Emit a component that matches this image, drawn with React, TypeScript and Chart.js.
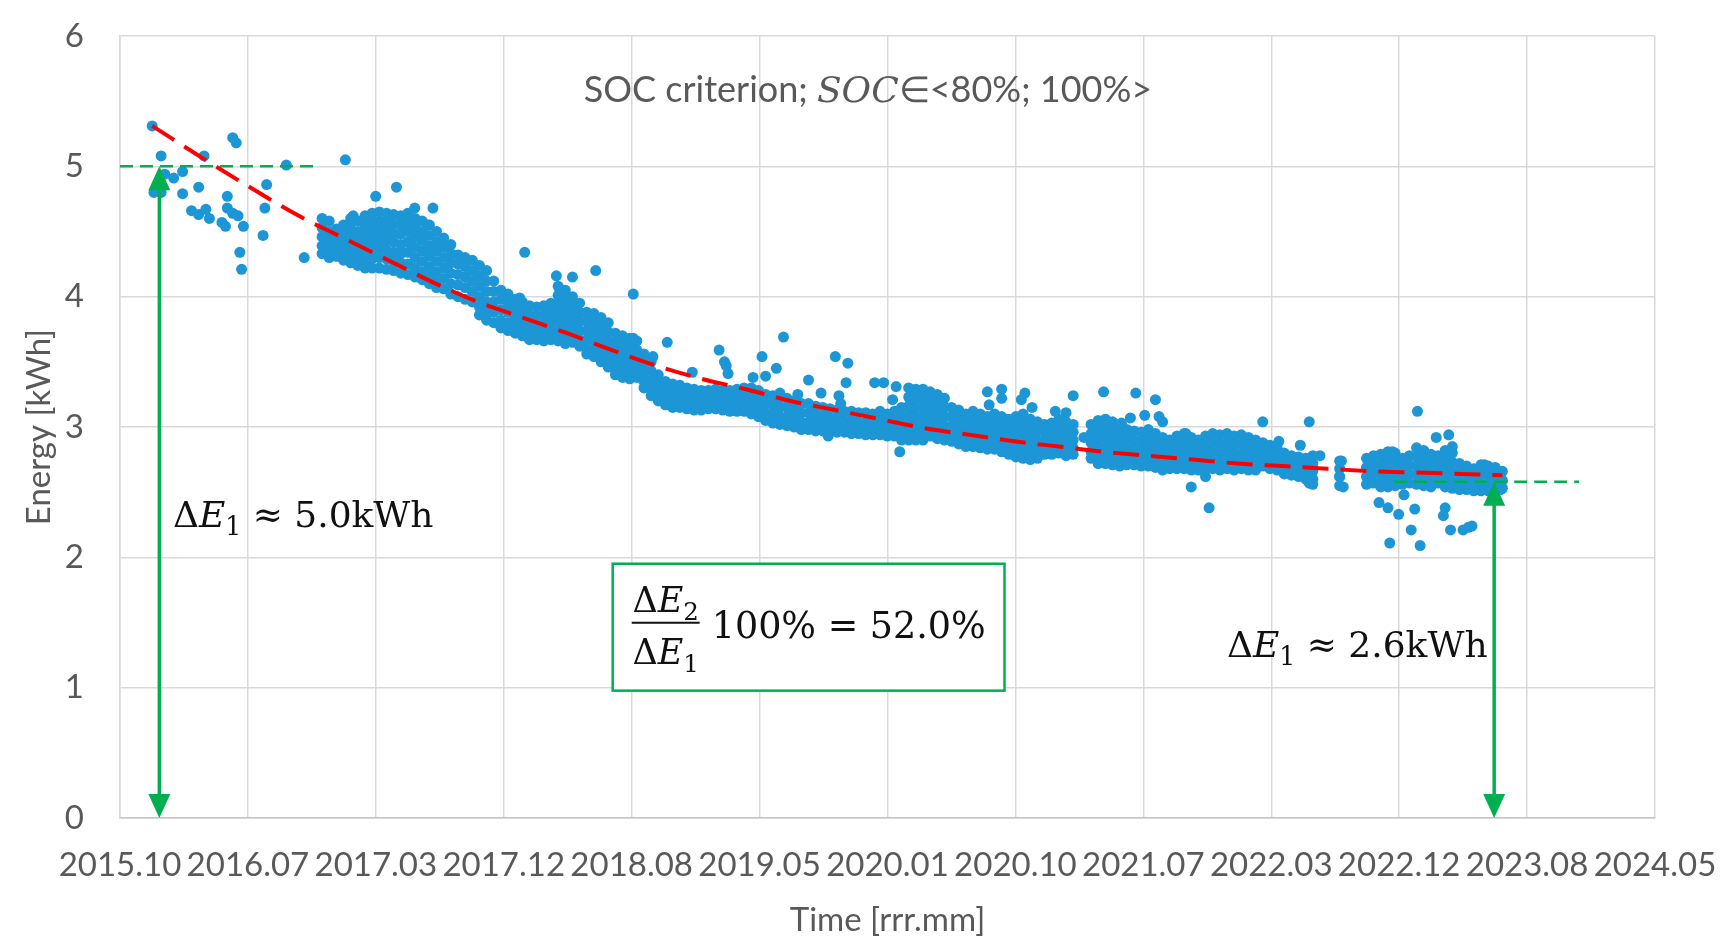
import React, { useEffect, useRef } from "react";
import { Chart, registerables } from "chart.js";

Chart.register(...registerables);

// ---------------- data ----------------
const xTickLabels = [
  "2015.10", "2016.07", "2017.03", "2017.12", "2018.08", "2019.05", "2020.01",
  "2020.10", "2021.07", "2022.03", "2022.12", "2023.08", "2024.05",
];
const yTickValues = [0, 1, 2, 3, 4, 5, 6];
const X_START = 2015 + 9 / 12; // 2015.10
const X_END = 2024 + 4 / 12; // 2024.05

// sparse measurements at the beginning [year, kWh]
const early2016Points = [
  [2015.93, 5.31], [2015.98, 5.08], [2015.94, 4.8], [2015.98, 4.8], [2016.0, 4.94],
  [2016.05, 4.91], [2016.1, 4.96], [2016.22, 5.08], [2016.1, 4.79], [2016.19, 4.84],
  [2016.15, 4.66], [2016.19, 4.63], [2016.23, 4.67], [2016.25, 4.6], [2016.35, 4.77],
  [2016.35, 4.68], [2016.38, 4.64], [2016.41, 4.62], [2016.44, 4.54], [2016.34, 4.54],
  [2016.32, 4.57], [2016.38, 5.22], [2016.4, 5.18], [2016.42, 4.34], [2016.43, 4.21],
  [2016.57, 4.86], [2016.56, 4.68], [2016.55, 4.47], [2016.68, 5.01], [2016.78, 4.3],
  [2017.01, 5.05],
];

// dense clusters: [year, kWh, kWh, ...]
const blob2017Cols = [
  [2016.88, 4.6, 4.53, 4.46, 4.39, 4.33],
  [2016.92, 4.58, 4.5, 4.43, 4.36, 4.3],
  [2016.96, 4.52, 4.45, 4.38, 4.31],
  [2017.0, 4.55, 4.48, 4.41, 4.34, 4.28],
  [2017.04, 4.6, 4.52, 4.45, 4.38, 4.31, 4.26],
  [2017.08, 4.58, 4.5, 4.43, 4.36, 4.29, 4.24],
  [2017.12, 4.62, 4.55, 4.48, 4.41, 4.34, 4.27, 4.22],
  [2017.16, 4.64, 4.57, 4.5, 4.43, 4.36, 4.29, 4.22],
  [2017.2, 4.65, 4.58, 4.51, 4.44, 4.37, 4.3, 4.22],
  [2017.24, 4.64, 4.57, 4.5, 4.43, 4.36, 4.29, 4.21],
  [2017.28, 4.63, 4.56, 4.49, 4.42, 4.34, 4.27, 4.2],
  [2017.32, 4.62, 4.55, 4.48, 4.4, 4.33, 4.26, 4.18],
  [2017.36, 4.64, 4.57, 4.5, 4.42, 4.34, 4.25, 4.17],
  [2017.4, 4.6, 4.53, 4.46, 4.38, 4.3, 4.22, 4.15],
  [2017.44, 4.58, 4.5, 4.43, 4.35, 4.27, 4.19, 4.13],
  [2017.48, 4.55, 4.47, 4.39, 4.31, 4.23, 4.15, 4.1],
  [2017.52, 4.5, 4.42, 4.35, 4.27, 4.19, 4.11, 4.07],
  [2017.56, 4.45, 4.38, 4.3, 4.22, 4.14, 4.06],
  [2017.6, 4.4, 4.33, 4.26, 4.18, 4.1, 4.02],
  [2017.64, 4.32, 4.25, 4.17, 4.09, 4.0],
  [2017.68, 4.3, 4.23, 4.15, 4.07, 3.98],
  [2017.72, 4.28, 4.2, 4.12, 4.04, 3.96],
  [2017.76, 4.24, 4.16, 4.08, 4.0, 3.92, 3.86],
  [2017.8, 4.2, 4.12, 4.04, 3.96, 3.88, 3.82],
  [2017.84, 4.12, 4.04, 3.96, 3.88, 3.8],
  [2017.88, 4.05, 3.98, 3.9, 3.82, 3.76],
  [2017.92, 4.02, 3.95, 3.88, 3.8, 3.74],
  [2017.96, 3.98, 3.91, 3.84, 3.77, 3.72],
  [2018.0, 3.96, 3.89, 3.82, 3.75, 3.7],
];

const band2018Cols = [
  [2018.04, 3.93, 3.86, 3.79, 3.72, 3.67],
  [2018.08, 3.92, 3.85, 3.78, 3.71, 3.67],
  [2018.12, 3.93, 3.86, 3.79, 3.72, 3.66],
  [2018.16, 3.95, 3.88, 3.81, 3.74, 3.67],
  [2018.2, 4.08, 4.01, 3.94, 3.87, 3.8, 3.73, 3.66],
  [2018.24, 4.05, 3.98, 3.91, 3.84, 3.77, 3.7, 3.64],
  [2018.28, 4.0, 3.93, 3.86, 3.79, 3.72, 3.65],
  [2018.32, 3.95, 3.88, 3.81, 3.74, 3.67, 3.62],
  [2018.36, 3.88, 3.81, 3.74, 3.67, 3.6, 3.56],
  [2018.4, 3.87, 3.8, 3.73, 3.66, 3.59, 3.54],
  [2018.44, 3.84, 3.77, 3.7, 3.63, 3.56, 3.5],
  [2018.48, 3.8, 3.73, 3.66, 3.59, 3.52, 3.46],
  [2018.52, 3.72, 3.65, 3.58, 3.51, 3.44, 3.4],
  [2018.56, 3.7, 3.63, 3.56, 3.49, 3.42, 3.38],
  [2018.6, 3.68, 3.61, 3.54, 3.47, 3.4, 3.37],
  [2018.64, 3.66, 3.59, 3.52, 3.45, 3.38],
  [2018.68, 3.56, 3.49, 3.42, 3.35, 3.3],
  [2018.72, 3.5, 3.43, 3.36, 3.29, 3.24],
  [2018.76, 3.4, 3.33, 3.26, 3.2],
  [2018.8, 3.35, 3.28, 3.21, 3.17],
  [2018.84, 3.33, 3.26, 3.2, 3.15],
  [2018.88, 3.32, 3.26, 3.2, 3.15],
  [2018.92, 3.3, 3.24, 3.18, 3.14],
  [2018.96, 3.29, 3.23, 3.17, 3.13],
];

const band2019Cols = [
  [2019.0, 3.28, 3.22, 3.16, 3.13],
  [2019.04, 3.28, 3.22, 3.16, 3.14],
  [2019.08, 3.29, 3.23, 3.17, 3.14],
  [2019.12, 3.28, 3.22, 3.16, 3.13],
  [2019.16, 3.28, 3.22, 3.16, 3.12],
  [2019.2, 3.29, 3.23, 3.17, 3.12],
  [2019.24, 3.3, 3.24, 3.18, 3.12],
  [2019.28, 3.3, 3.23, 3.16, 3.1],
  [2019.32, 3.28, 3.21, 3.14, 3.08],
  [2019.36, 3.25, 3.18, 3.11, 3.05],
  [2019.4, 3.24, 3.17, 3.1, 3.03],
  [2019.44, 3.22, 3.15, 3.08, 3.02],
  [2019.48, 3.22, 3.15, 3.08, 3.01],
  [2019.52, 3.2, 3.13, 3.06, 3.0],
  [2019.56, 3.18, 3.11, 3.04, 2.98],
  [2019.6, 3.18, 3.11, 3.04, 2.98],
  [2019.64, 3.16, 3.09, 3.02, 2.97],
  [2019.68, 3.15, 3.08, 3.01, 2.97],
  [2019.72, 3.14, 3.07, 3.0, 2.96],
  [2019.76, 3.13, 3.06, 3.0, 2.96],
  [2019.8, 3.12, 3.05, 2.99, 2.96],
  [2019.84, 3.12, 3.05, 2.99, 2.95],
  [2019.88, 3.11, 3.04, 2.98, 2.95],
  [2019.92, 3.11, 3.04, 2.98, 2.94],
  [2019.96, 3.1, 3.03, 2.97, 2.94],
];

const band2020Cols = [
  [2020.0, 3.12, 3.05, 2.98, 2.94],
  [2020.04, 3.1, 3.03, 2.97, 2.93],
  [2020.08, 3.12, 3.05, 2.98, 2.93],
  [2020.12, 3.15, 3.08, 3.01, 2.95, 2.9],
  [2020.16, 3.3, 3.23, 3.16, 3.09, 3.02, 2.95, 2.9],
  [2020.2, 3.28, 3.21, 3.14, 3.07, 3.0, 2.94, 2.9],
  [2020.24, 3.29, 3.22, 3.15, 3.08, 3.01, 2.94, 2.9],
  [2020.28, 3.27, 3.2, 3.13, 3.06, 2.99, 2.93],
  [2020.32, 3.25, 3.18, 3.11, 3.04, 2.97, 2.91],
  [2020.36, 3.22, 3.15, 3.08, 3.01, 2.95, 2.9],
  [2020.4, 3.15, 3.08, 3.01, 2.94, 2.89],
  [2020.44, 3.13, 3.06, 2.99, 2.92, 2.87],
  [2020.48, 3.1, 3.03, 2.96, 2.9, 2.85],
  [2020.52, 3.12, 3.05, 2.98, 2.91, 2.85],
  [2020.56, 3.1, 3.03, 2.96, 2.89, 2.84],
  [2020.6, 3.08, 3.01, 2.94, 2.88, 2.83],
  [2020.64, 3.1, 3.03, 2.96, 2.89, 2.83],
  [2020.68, 3.08, 3.01, 2.94, 2.87, 2.81],
  [2020.72, 3.06, 2.99, 2.92, 2.85, 2.79],
  [2020.76, 3.08, 3.01, 2.94, 2.87, 2.8, 2.77],
  [2020.8, 3.1, 3.03, 2.96, 2.89, 2.82, 2.76],
  [2020.84, 3.06, 2.99, 2.92, 2.85, 2.78, 2.75],
  [2020.88, 3.04, 2.97, 2.9, 2.83, 2.76],
  [2020.92, 3.02, 2.96, 2.9, 2.84, 2.79],
  [2020.96, 3.03, 2.97, 2.91, 2.85, 2.79],
];

const band2021Cols = [
  [2021.0, 3.06, 2.99, 2.92, 2.86, 2.8],
  [2021.04, 3.04, 2.97, 2.9, 2.84, 2.78],
  [2021.08, 3.02, 2.96, 2.9, 2.84, 2.79],
  [2021.18, 3.02, 2.95, 2.88, 2.81, 2.76],
  [2021.22, 3.05, 2.98, 2.91, 2.84, 2.77, 2.72],
  [2021.26, 3.06, 2.99, 2.92, 2.85, 2.78, 2.72],
  [2021.3, 3.04, 2.97, 2.9, 2.83, 2.76, 2.71],
  [2021.34, 3.01, 2.94, 2.87, 2.8, 2.74, 2.7],
  [2021.38, 2.98, 2.91, 2.84, 2.77, 2.71],
  [2021.42, 2.97, 2.9, 2.83, 2.77, 2.71],
  [2021.46, 2.96, 2.89, 2.82, 2.75, 2.7],
  [2021.5, 2.98, 2.91, 2.84, 2.77, 2.7],
  [2021.54, 2.95, 2.88, 2.81, 2.74, 2.69],
  [2021.58, 2.92, 2.85, 2.78, 2.72, 2.67],
  [2021.62, 2.9, 2.84, 2.78, 2.72, 2.68],
  [2021.66, 2.93, 2.86, 2.79, 2.73, 2.68],
  [2021.7, 2.95, 2.88, 2.81, 2.74, 2.68],
  [2021.74, 2.92, 2.85, 2.78, 2.72, 2.67],
  [2021.78, 2.9, 2.84, 2.78, 2.72, 2.67],
  [2021.82, 2.93, 2.86, 2.79, 2.73, 2.68],
  [2021.86, 2.95, 2.88, 2.81, 2.74, 2.68],
  [2021.9, 2.94, 2.87, 2.8, 2.73, 2.67],
  [2021.94, 2.95, 2.88, 2.81, 2.74, 2.68],
  [2021.98, 2.93, 2.86, 2.79, 2.72, 2.67],
];

const band2022Cols = [
  [2022.02, 2.94, 2.87, 2.8, 2.73, 2.68],
  [2022.06, 2.92, 2.85, 2.78, 2.72, 2.67],
  [2022.1, 2.9, 2.83, 2.76, 2.7, 2.67],
  [2022.14, 2.88, 2.82, 2.76, 2.7],
  [2022.18, 2.86, 2.8, 2.74, 2.68],
  [2022.22, 2.84, 2.78, 2.72, 2.67],
  [2022.26, 2.8, 2.74, 2.68, 2.64],
  [2022.3, 2.78, 2.72, 2.66, 2.63],
  [2022.34, 2.77, 2.71, 2.65, 2.62],
  [2022.38, 2.76, 2.7, 2.64, 2.6],
  [2022.42, 2.78, 2.72, 2.66, 2.6, 2.56],
  [2022.57, 2.74, 2.68, 2.62, 2.55],
  [2022.72, 2.76, 2.69, 2.62, 2.56],
  [2022.76, 2.78, 2.71, 2.64, 2.57],
  [2022.8, 2.79, 2.72, 2.65, 2.58, 2.54],
  [2022.84, 2.81, 2.74, 2.67, 2.6, 2.54],
  [2022.88, 2.8, 2.73, 2.66, 2.59, 2.55],
  [2022.92, 2.76, 2.69, 2.62, 2.56],
  [2022.96, 2.78, 2.71, 2.64, 2.57],
];

const band2023Cols = [
  [2023.0, 2.84, 2.77, 2.7, 2.63, 2.56],
  [2023.04, 2.82, 2.75, 2.68, 2.61, 2.55],
  [2023.08, 2.79, 2.72, 2.65, 2.58, 2.54],
  [2023.12, 2.78, 2.71, 2.64, 2.57],
  [2023.16, 2.82, 2.75, 2.68, 2.61, 2.54],
  [2023.2, 2.8, 2.73, 2.66, 2.59, 2.53],
  [2023.24, 2.72, 2.65, 2.58, 2.52],
  [2023.28, 2.7, 2.64, 2.58, 2.52],
  [2023.32, 2.68, 2.62, 2.56, 2.51],
  [2023.36, 2.71, 2.64, 2.57, 2.51],
  [2023.4, 2.7, 2.63, 2.56, 2.51],
  [2023.44, 2.69, 2.62, 2.55, 2.51],
  [2023.48, 2.66, 2.59, 2.53],
];

// isolated measurements [year, kWh]
const outliers2017 = [
  [2017.035, 4.55], [2017.054, 4.62], [2017.18, 4.77], [2017.296, 4.84], [2017.398, 4.68],
  [2017.5, 4.68], [2017.473, 4.55], [2017.557, 4.41], [2017.985, 3.99], [2018.013, 4.34],
];
const outliers2018 = [
  [2018.19, 4.16], [2018.28, 4.15], [2018.41, 4.2], [2018.62, 4.02], [2018.62, 3.68],
  [2018.73, 3.54], [2018.81, 3.65], [2018.95, 3.42],
];
const outliers2019 = [
  [2019.1, 3.59], [2019.13, 3.5], [2019.14, 3.47], [2019.15, 3.41], [2019.29, 3.38],
  [2019.34, 3.54], [2019.36, 3.39], [2019.42, 3.45], [2019.46, 3.69], [2019.44, 3.26],
  [2019.54, 3.25], [2019.6, 3.36], [2019.67, 3.26], [2019.71, 2.93], [2019.75, 3.54],
  [2019.82, 3.49], [2019.81, 3.34], [2019.77, 3.24], [2019.78, 3.18], [2019.97, 3.34],
];
const outliers2020 = [
  [2020.02, 3.34], [2020.09, 3.31], [2020.07, 3.21], [2020.11, 2.81], [2020.17, 3.21],
  [2020.2, 3.29], [2020.6, 3.27], [2020.68, 3.29], [2020.68, 3.22], [2020.61, 3.17],
  [2020.81, 3.26], [2020.79, 3.21], [2020.85, 3.15], [2020.98, 3.12],
];
const outliers2021 = [
  [2021.04, 3.11], [2021.08, 3.24], [2021.14, 2.92], [2021.25, 3.27], [2021.3, 3.03],
  [2021.35, 3.03], [2021.4, 3.07], [2021.43, 3.26], [2021.48, 3.09], [2021.54, 3.21],
  [2021.56, 3.08], [2021.58, 3.04], [2021.71, 2.95], [2021.74, 2.54], [2021.84, 2.38],
  [2021.82, 2.62],
];
const outliers2022 = [
  [2022.14, 3.04], [2022.23, 2.89], [2022.35, 2.86], [2022.4, 3.04], [2022.4, 2.57],
  [2022.38, 2.65], [2022.46, 2.78], [2022.58, 2.74], [2022.57, 2.62], [2022.59, 2.54],
  [2022.735, 2.74], [2022.865, 2.81], [2022.79, 2.42], [2022.84, 2.38], [2022.9, 2.33],
  [2022.85, 2.11], [2022.93, 2.48], [2022.99, 2.37], [2022.97, 2.21],
];
const outliers2023 = [
  [2023.005, 3.12], [2023.02, 2.09], [2023.11, 2.92], [2023.18, 2.94], [2023.2, 2.85],
  [2023.16, 2.38], [2023.15, 2.32], [2023.19, 2.21], [2023.26, 2.21], [2023.29, 2.23],
  [2023.31, 2.24], [2023.47, 2.52], [2023.38, 2.71],
];

// red dashed trend line [year, kWh]
const trendPoints = [
  [2015.93, 5.31], [2016.25, 5.03], [2016.5, 4.82], [2016.75, 4.62], [2017.0, 4.45],
  [2017.25, 4.28], [2017.5, 4.11], [2017.75, 3.96], [2018.0, 3.84], [2018.25, 3.72],
  [2018.5, 3.59], [2018.75, 3.47], [2019.0, 3.37], [2019.25, 3.29], [2019.5, 3.2],
  [2019.75, 3.13], [2020.0, 3.06], [2020.25, 2.99], [2020.5, 2.94], [2020.75, 2.89],
  [2021.0, 2.85], [2021.25, 2.81], [2021.5, 2.78], [2021.75, 2.75], [2022.0, 2.72],
  [2022.25, 2.7], [2022.5, 2.68], [2022.75, 2.66], [2023.0, 2.65], [2023.25, 2.64],
  [2023.48, 2.63],
];

// green guides: start / end capacity levels
const startLevel = [[2015.75, 5.0], [2016.845, 5.0]];
const endLevel = [[2022.875, 2.58], [2023.909, 2.58]];
const arrowMarks = [
  { x: 2015.97, from: 0, to: 5.0 },
  { x: 2023.434, from: 0, to: 2.58 },
];

// ---------------- styles ----------------
const SANS = "Lato, 'Open Sans', sans-serif";
const SERIF = "'DejaVu Serif', 'Liberation Serif', serif";
const GREEN = "#00B050";
const GREY = "#595959";
const DOT = "#1D96D6";

type Seg = { t: string; it?: boolean; sub?: boolean; fam?: string };

function setFont(ctx: CanvasRenderingContext2D, s: Seg, size: number, fam: string) {
  const fs = s.sub ? size * 0.7 : size;
  ctx.font = `${s.it ? "italic " : ""}${fs}px ${s.fam ?? fam}`;
}
function runWidth(ctx: CanvasRenderingContext2D, segs: Seg[], size: number, fam: string) {
  let w = 0;
  for (const s of segs) {
    setFont(ctx, s, size, fam);
    w += ctx.measureText(s.t).width;
  }
  return w;
}
function drawRun(ctx: CanvasRenderingContext2D, segs: Seg[], x: number, y: number, size: number, fam: string) {
  let cx = x;
  for (const s of segs) {
    setFont(ctx, s, size, fam);
    ctx.fillText(s.t, cx, y + (s.sub ? size * 0.24 : 0));
    cx += ctx.measureText(s.t).width;
  }
}

const deltaE = (n: string): Seg[] => [{ t: "Δ" }, { t: "E", it: true }, { t: n, sub: true }];

const annotationPlugin = {
  id: "annotations",
  afterDatasetsDraw(chart: any) {
    const ctx: CanvasRenderingContext2D = chart.ctx;
    const xs = chart.scales.x;
    const ys = chart.scales.y;
    ctx.save();
    ctx.textAlign = "left";
    ctx.textBaseline = "alphabetic";

    // title inside plot
    ctx.fillStyle = GREY;
    const titleSegs: Seg[] = [
      { t: "SOC criterion; ", fam: SANS },
      { t: "SOC", it: true, fam: SERIF },
      { t: "∈<80%; 100%>", fam: SANS },
    ];
    drawRun(ctx, titleSegs, xs.getPixelForValue(2018.343), ys.getPixelForValue(5.49), 36, SANS);

    // arrows
    ctx.strokeStyle = GREEN;
    ctx.fillStyle = GREEN;
    for (const a of arrowMarks) {
      const px = xs.getPixelForValue(a.x);
      const top = ys.getPixelForValue(a.to);
      const bot = ys.getPixelForValue(a.from);
      const head = 24;
      const half = 11;
      ctx.lineWidth = 3.5;
      ctx.beginPath();
      ctx.moveTo(px, top + head - 2);
      ctx.lineTo(px, bot - head + 2);
      ctx.stroke();
      ctx.beginPath();
      ctx.moveTo(px, top);
      ctx.lineTo(px - half, top + head);
      ctx.lineTo(px + half, top + head);
      ctx.closePath();
      ctx.fill();
      ctx.beginPath();
      ctx.moveTo(px, bot);
      ctx.lineTo(px - half, bot - head);
      ctx.lineTo(px + half, bot - head);
      ctx.closePath();
      ctx.fill();
    }

    // delta labels
    ctx.fillStyle = "#111";
    drawRun(ctx, [...deltaE("1"), { t: " ≈ 5.0kWh" }], xs.getPixelForValue(2016.046), ys.getPixelForValue(2.235), 36, SERIF);
    drawRun(ctx, [...deltaE("1"), { t: " ≈ 2.6kWh" }], xs.getPixelForValue(2021.94), ys.getPixelForValue(1.237), 36, SERIF);

    // ratio box
    const bx0 = xs.getPixelForValue(2018.505);
    const bx1 = xs.getPixelForValue(2020.696);
    const by0 = ys.getPixelForValue(1.951);
    const by1 = ys.getPixelForValue(0.977);
    ctx.fillStyle = "#ffffff";
    ctx.fillRect(bx0, by0, bx1 - bx0, by1 - by0);
    ctx.strokeStyle = GREEN;
    ctx.lineWidth = 2.5;
    ctx.strokeRect(bx0, by0, bx1 - bx0, by1 - by0);

    ctx.fillStyle = "#111";
    const num = deltaE("2");
    const den = deltaE("1");
    const cx = bx0 + 53;
    const wn = runWidth(ctx, num, 35, SERIF);
    const wd = runWidth(ctx, den, 35, SERIF);
    drawRun(ctx, num, cx - wn / 2, by0 + 48, 35, SERIF);
    drawRun(ctx, den, cx - wd / 2, by0 + 100, 35, SERIF);
    ctx.strokeStyle = "#111";
    ctx.lineWidth = 2;
    ctx.beginPath();
    ctx.moveTo(bx0 + 19, by0 + 59);
    ctx.lineTo(bx0 + 87, by0 + 59);
    ctx.stroke();
    drawRun(ctx, [{ t: "100% = 52.0%" }], bx0 + 99, by0 + 74, 36.5, SERIF);

    ctx.restore();
  },
};

function colsToPoints(cols: number[][]) {
  const out: { x: number; y: number }[] = [];
  for (const c of cols) for (let i = 1; i < c.length; i++) out.push({ x: c[0], y: c[i] });
  return out;
}
const pairs = (arr: number[][]) => arr.map(([x, y]) => ({ x, y }));

function clearScalePadding(scale: any) {
  scale.paddingTop = 0;
  scale.paddingBottom = 0;
  scale.paddingLeft = 0;
  scale.paddingRight = 0;
}

export default function App() {
  const ref = useRef<HTMLCanvasElement | null>(null);

  useEffect(() => {
    document.body.style.margin = "0";
    document.body.style.overflow = "hidden";
    const canvas = ref.current;
    if (!canvas) return;

    const scatterData = [
      ...pairs(early2016Points),
      ...colsToPoints(blob2017Cols),
      ...colsToPoints(band2018Cols),
      ...colsToPoints(band2019Cols),
      ...colsToPoints(band2020Cols),
      ...colsToPoints(band2021Cols),
      ...colsToPoints(band2022Cols),
      ...colsToPoints(band2023Cols),
      ...pairs(outliers2017),
      ...pairs(outliers2018),
      ...pairs(outliers2019),
      ...pairs(outliers2020),
      ...pairs(outliers2021),
      ...pairs(outliers2022),
      ...pairs(outliers2023),
    ];

    const xStep = (X_END - X_START) / (xTickLabels.length - 1);

    const chart = new Chart(canvas, {
      type: "scatter",
      data: {
        datasets: [
          {
            label: "trend",
            data: pairs(trendPoints),
            showLine: true,
            borderColor: "#FF0000",
            borderWidth: 4,
            borderDash: [26, 12],
            pointRadius: 0,
            cubicInterpolationMode: "monotone",
            order: 1,
          } as any,
          {
            label: "start level",
            data: pairs(startLevel),
            showLine: true,
            borderColor: GREEN,
            borderWidth: 2.5,
            borderDash: [13, 7],
            pointRadius: 0,
            order: 2,
          } as any,
          {
            label: "end level",
            data: pairs(endLevel),
            showLine: true,
            borderColor: GREEN,
            borderWidth: 2.5,
            borderDash: [13, 7],
            pointRadius: 0,
            order: 2,
          } as any,
          {
            label: "Energy",
            data: scatterData,
            backgroundColor: DOT,
            borderWidth: 0,
            pointRadius: 5.5,
            order: 3,
          } as any,
        ],
      },
      options: {
        responsive: false,
        animation: false,
        events: [],
        layout: { padding: { left: 0, right: 81, top: 36, bottom: 0 } },
        plugins: { legend: { display: false }, tooltip: { enabled: false } },
        scales: {
          x: {
            type: "linear",
            min: X_START,
            max: X_END,
            afterBuildTicks: (scale: any) => {
              scale.ticks = xTickLabels.map((_, i) => ({ value: X_START + i * xStep }));
            },
            afterFit: (scale: any) => {
              scale.height = 134;
              clearScalePadding(scale);
            },
            ticks: {
              autoSkip: false,
              maxRotation: 0,
              minRotation: 0,
              padding: 28,
              color: GREY,
              font: { family: SANS, size: 33 },
              callback: (_v: any, i: number) => xTickLabels[i],
            },
            grid: { color: "#D9D9D9", lineWidth: 1.5, drawTicks: false },
            border: { color: "#C6C6C6", width: 1.5 },
            title: {
              display: true,
              text: "Time [rrr.mm]",
              color: GREY,
              font: { family: SANS, size: 33 },
              padding: { top: 0, bottom: 12 },
            },
          },
          y: {
            type: "linear",
            min: 0,
            max: 6,
            afterBuildTicks: (scale: any) => {
              scale.ticks = yTickValues.map((v) => ({ value: v }));
            },
            afterFit: (scale: any) => {
              scale.width = 120;
              clearScalePadding(scale);
            },
            ticks: {
              padding: 36,
              color: GREY,
              font: { family: SANS, size: 33 },
              callback: (v: any) => String(v),
            },
            grid: { color: "#D9D9D9", lineWidth: 1.5, drawTicks: false },
            border: { color: "#D9D9D9", width: 1.5 },
            title: {
              display: true,
              text: "Energy [kWh]",
              color: GREY,
              font: { family: SANS, size: 33 },
              padding: { top: 20, bottom: 0 },
            },
          },
        },
      },
      plugins: [annotationPlugin],
    } as any);

    return () => chart.destroy();
  }, []);

  return (
    <div style={{ width: 1736, height: 952, position: "relative", background: "#fff" }}>
      <canvas ref={ref} width={1736} height={952} style={{ display: "block" }} />
    </div>
  );
}
